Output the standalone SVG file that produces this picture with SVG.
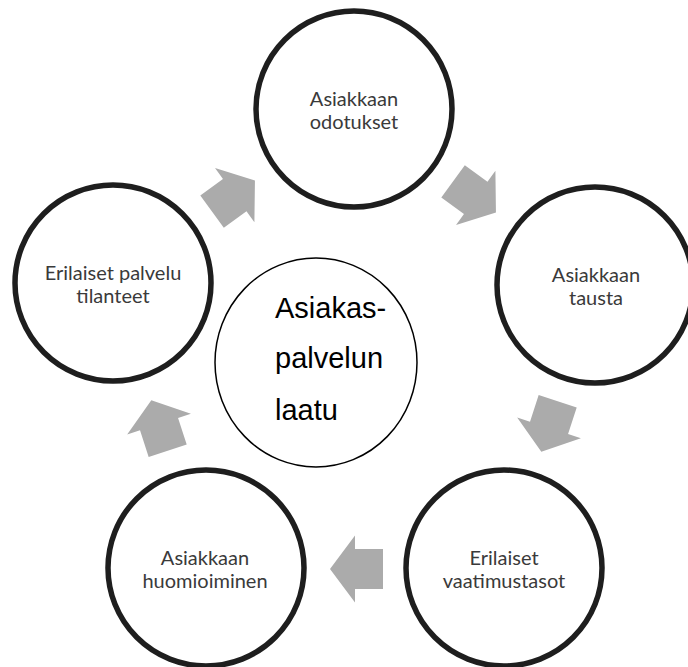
<svg xmlns="http://www.w3.org/2000/svg" xmlns:xlink="http://www.w3.org/1999/xlink" width="688" height="667" viewBox="0 0 688 667">
  <style>
    .node { fill: #ffffff; stroke: #1e1e1e; stroke-width: 5.5; }
    .lbl { font-family: Lato, "Liberation Sans", sans-serif; font-size: 20px; fill: #3a3a3a; text-anchor: middle; }
    .center { fill: #ffffff; stroke: #000000; stroke-width: 1.5; }
    .ctext { font-family: "Liberation Sans", Arial, sans-serif; font-size: 29px; fill: #000000; }
    .arrow { fill: #ababab; }
  </style>
  <defs>
    <path id="blockArrow" d="M -26.5 -20 L 1.5 -20 L 1.5 -33.5 L 26.5 0 L 1.5 33.5 L 1.5 20 L -26.5 20 Z"/>
  </defs>
  <rect width="688" height="667" fill="#ffffff"/>

  <g id="connectors" class="arrow">
    <use xlink:href="#blockArrow" href="#blockArrow" transform="translate(474.5 197) rotate(36)"/>
    <use xlink:href="#blockArrow" href="#blockArrow" transform="translate(549.5 426.5) rotate(108)"/>
    <use xlink:href="#blockArrow" href="#blockArrow" transform="translate(356.5 569) rotate(180)"/>
    <use xlink:href="#blockArrow" href="#blockArrow" transform="translate(159.5 425.5) rotate(252)"/>
    <use xlink:href="#blockArrow" href="#blockArrow" transform="translate(233.5 196) rotate(324)"/>
  </g>

  <g id="node-center">
    <ellipse class="center" cx="316" cy="362.5" rx="101" ry="104.5"/>
    <text class="ctext" x="275" y="318">Asiakas-</text>
    <text class="ctext" x="275" y="368">palvelun</text>
    <text class="ctext" x="275" y="420">laatu</text>
  </g>

  <g id="node-odotukset">
    <circle class="node" cx="354" cy="109" r="98"/>
    <text class="lbl" x="354" y="106">Asiakkaan</text>
    <text class="lbl" x="354" y="129">odotukset</text>
  </g>

  <g id="node-tausta">
    <circle class="node" cx="595" cy="285" r="98"/>
    <text class="lbl" x="596" y="282">Asiakkaan</text>
    <text class="lbl" x="596" y="305">tausta</text>
  </g>

  <g id="node-vaatimustasot">
    <circle class="node" cx="504" cy="568" r="98"/>
    <text class="lbl" x="504" y="565">Erilaiset</text>
    <text class="lbl" x="504" y="588">vaatimustasot</text>
  </g>

  <g id="node-huomioiminen">
    <circle class="node" cx="206" cy="568" r="98"/>
    <text class="lbl" x="205" y="565">Asiakkaan</text>
    <text class="lbl" x="205" y="588">huomioiminen</text>
  </g>

  <g id="node-tilanteet">
    <circle class="node" cx="113" cy="283" r="98"/>
    <text class="lbl" x="113" y="280">Erilaiset palvelu</text>
    <text class="lbl" x="113" y="303">tilanteet</text>
  </g>
</svg>
